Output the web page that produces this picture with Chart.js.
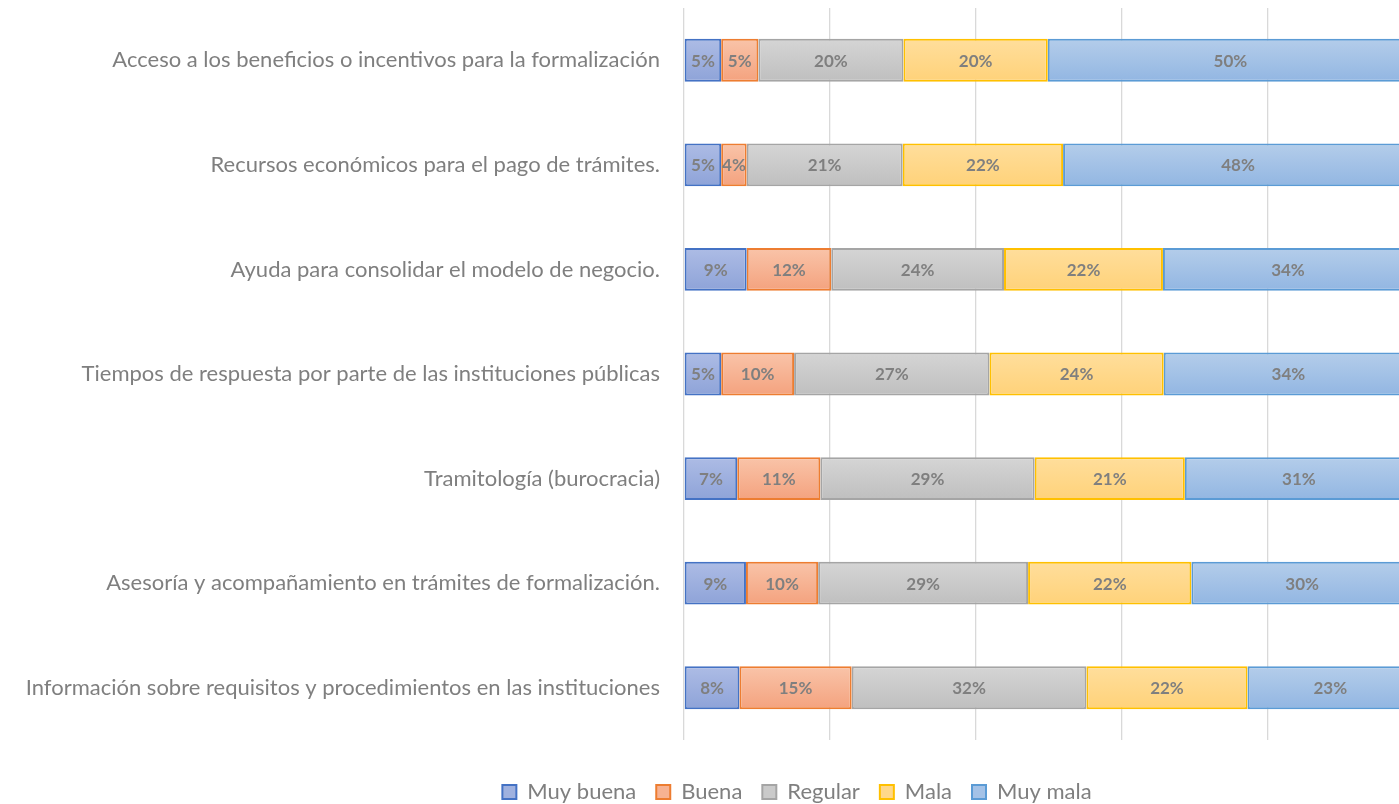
<!DOCTYPE html>
<html>
<head>
<meta charset="utf-8">
<script src="https://cdn.jsdelivr.net/npm/chart.js@4"></script>
<style>
  html, body { margin: 0; padding: 0; background: #ffffff; overflow: hidden; }
  #wrap { position: relative; width: 1594px; height: 804px; }
</style>
</head>
<body>
<div id="wrap"><canvas id="c" width="1594" height="804"></canvas></div>
<script>
const categories = [
  "Acceso a los beneficios o incentivos para la formalización",
  "Recursos económicos para el pago de trámites.",
  "Ayuda para consolidar el modelo de negocio.",
  "Tiempos de respuesta por parte de las instituciones públicas",
  "Tramitología (burocracia)",
  "Asesoría y acompañamiento en trámites de formalización.",
  "Información sobre requisitos y procedimientos en las instituciones"
];
const seriesNames = ["Muy buena", "Buena", "Regular", "Mala", "Muy mala"];
const muyBuena = [5.1, 5.1, 8.6, 5.1, 7.3, 8.5, 7.6];
const buena    = [5.1, 3.5, 11.6, 10.0, 11.4, 9.9, 15.4];
const regular  = [19.9, 21.4, 23.7, 26.8, 29.4, 28.8, 32.2];
const mala     = [19.8, 22.0, 21.8, 23.9, 20.6, 22.4, 22.1];
const muyMala  = [50.1, 48.0, 34.3, 34.2, 31.3, 30.4, 22.7];
const xTicks = [0, 20, 40, 60, 80, 100];

const styles = [
  { top: "#adbce5", bottom: "#8ea3d8", border: "#4472c4", flat: "#9fb1df" },
  { top: "#f9c4a9", bottom: "#f4a27e", border: "#ed7d31", flat: "#f7b292" },
  { top: "#d5d5d5", bottom: "#bfbfbf", border: "#a5a5a5", flat: "#cacaca" },
  { top: "#ffde9c", bottom: "#ffd279", border: "#ffc000", flat: "#ffd88a" },
  { top: "#b4cdea", bottom: "#92b6e2", border: "#5b9bd5", flat: "#a4c2e7" }
];
const seriesData = [muyBuena, buena, regular, mala, muyMala];

const HALF = 21.5;
function gradFor(idx) {
  return function(ctx) {
    const chart = ctx.chart;
    const st = styles[idx];
    if (!chart.chartArea || ctx.dataIndex === undefined || !chart.scales.y) return st.flat;
    const yc = chart.scales.y.getPixelForValue(ctx.dataIndex);
    const g = chart.ctx.createLinearGradient(0, yc - HALF, 0, yc + HALF);
    g.addColorStop(0, st.top);
    g.addColorStop(1, st.bottom);
    return g;
  };
}

const datasets = seriesNames.map((name, i) => ({
  label: name,
  data: seriesData[i],
  backgroundColor: gradFor(i),
  borderColor: styles[i].border,
  borderWidth: 2,
  borderSkipped: false,
  barPercentage: 0.41,
  categoryPercentage: 1.0
}));

const barLabels = {
  id: "barLabels",
  afterDatasetsDraw(chart) {
    const c = chart.ctx;
    c.save();
    c.font = "bold 17px Lato, 'Open Sans', sans-serif";
    c.fillStyle = "#7f7f7f";
    c.textAlign = "center";
    c.textBaseline = "middle";
    chart.data.datasets.forEach((ds, di) => {
      const meta = chart.getDatasetMeta(di);
      meta.data.forEach((bar, j) => {
        const v = ds.data[j];
        const p = bar.getProps(["x", "y", "base"], true);
        const cx = (p.x + p.base) / 2;
        c.fillText(Math.round(v) + "%", cx, p.y + 1);
      });
    });
    c.restore();
  }
};

// center the legend on the full chart width (the plot extends past the visible right edge)
const legendCenter = {
  id: "legendCenter",
  afterLayout(chart) {
    const lg = chart.legend;
    if (!lg) return;
    const shift = chart.width / 2 - (lg.left + lg.right) / 2;
    lg.left += shift;
    lg.right += shift;
    if (lg.legendHitBoxes) lg.legendHitBoxes.forEach(h => { h.left += shift; });
  }
};

new Chart(document.getElementById("c"), {
  type: "bar",
  data: { labels: categories, datasets: datasets },
  options: {
    indexAxis: "y",
    responsive: false,
    animation: false,
    layout: { padding: { left: 0, right: 181, top: 8, bottom: -9 } },
    scales: {
      x: {
        stacked: true,
        min: 0,
        max: 100,
        afterBuildTicks(axis) { axis.ticks = xTicks.map(v => ({ value: v })); },
        ticks: { display: false },
        grid: { color: "#d9d9d9", lineWidth: 1.3, drawTicks: false },
        border: { display: false },
        afterFit(axis) { axis.height = 21; axis.paddingLeft = 0; axis.paddingRight = 0; }
      },
      y: {
        stacked: true,
        afterFit(axis) { axis.width = 684; axis.paddingTop = 0; axis.paddingBottom = 0; },
        grid: { display: false, drawTicks: false },
        border: { display: false },
        ticks: {
          padding: 24,
          color: "#7f7f7f",
          font: { family: "Lato, 'Open Sans', sans-serif", size: 22 }
        }
      }
    },
    plugins: {
      tooltip: { enabled: false },
      legend: {
        position: "bottom",
        labels: {
          color: "#7f7f7f",
          font: { family: "Lato, 'Open Sans', sans-serif", size: 22 },
          boxWidth: 14,
          boxHeight: 14,
          padding: 20,
          generateLabels(chart) {
            return chart.data.datasets.map((ds, i) => ({
              text: ds.label,
              fillStyle: styles[i].flat,
              strokeStyle: styles[i].border,
              lineWidth: 2,
              fontColor: "#7f7f7f",
              hidden: false,
              datasetIndex: i
            }));
          }
        }
      }
    }
  },
  plugins: [barLabels, legendCenter]
});
</script>
</body>
</html>
